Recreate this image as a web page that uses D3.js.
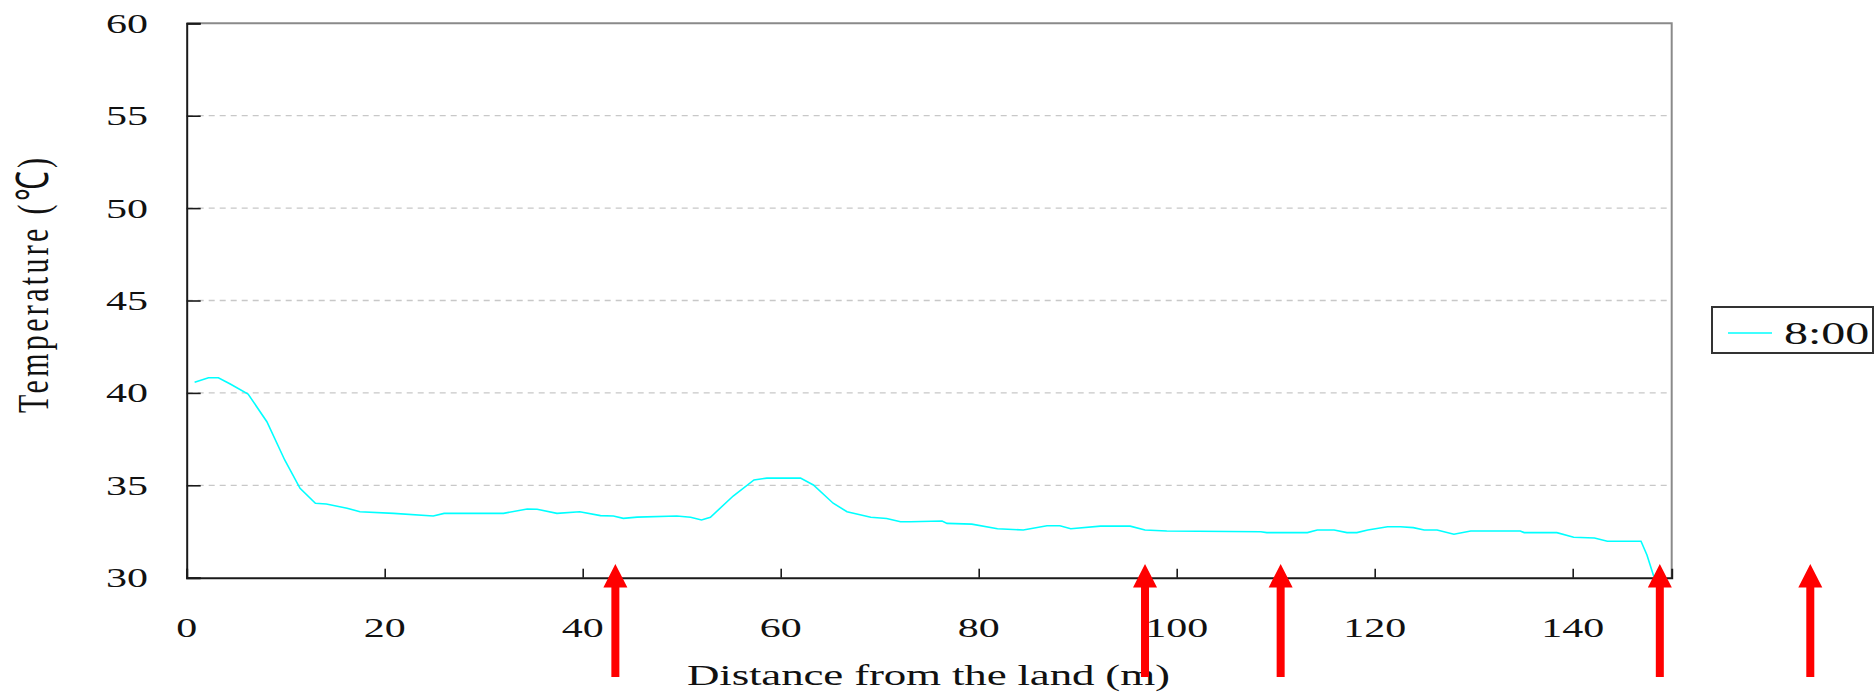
<!DOCTYPE html>
<html>
<head>
<meta charset="utf-8">
<script src="https://cdn.jsdelivr.net/npm/d3@7"></script>
<style>
  body { margin: 0; background: #fff; }
  text { font-family: "Liberation Serif", "Times New Roman", serif; fill: #111; }
</style>
</head>
<body>
<div id="chart"></div>
<script>
// distance from the land (m) and temperature at 8:00
const distance = [0.8, 2.2, 3.2, 4.4, 6.2, 8.1, 9.9, 11.45, 13.0, 14.1, 16.2, 17.5, 20.9, 24.9, 26.0,
  32.0, 34.4, 35.4, 37.4, 39.7, 41.8, 43.1, 44.1, 45.5, 49.5, 50.9, 52.0, 52.9, 55.2, 57.3, 58.6,
  62.0, 63.3, 65.3, 66.7, 69.1, 70.7, 72.1, 73.1, 76.3, 76.8, 79.3, 81.9, 84.5, 86.9, 88.2, 89.3,
  92.3, 95.3, 96.8, 99.0, 108.5, 109.1, 113.2, 114.2, 115.9, 117.2, 118.2, 119.3, 121.3, 122.6,
  123.9, 125.0, 126.3, 128.0, 129.7, 134.7, 135.1, 138.4, 140.1, 142.2, 143.5, 146.9, 147.5, 148.2];
const temp8 = [40.57, 40.82, 40.82, 40.48, 39.94, 38.44, 36.37, 34.84, 34.03, 33.99, 33.76, 33.57, 33.48, 33.34, 33.48,
  33.48, 33.72, 33.70, 33.48, 33.57, 33.36, 33.34, 33.21, 33.28, 33.34, 33.27, 33.12, 33.27, 34.42, 35.29, 35.39,
  35.39, 35.02, 34.03, 33.57, 33.27, 33.20, 33.03, 33.03, 33.07, 32.94, 32.90, 32.65, 32.58, 32.81, 32.81, 32.65,
  32.79, 32.79, 32.58, 32.53, 32.49, 32.44, 32.44, 32.58, 32.58, 32.44, 32.44, 32.58, 32.76, 32.76,
  32.71, 32.58, 32.58, 32.35, 32.53, 32.53, 32.44, 32.44, 32.19, 32.15, 31.97, 31.97, 31.23, 30.05];

const xTicks = [0, 20, 40, 60, 80, 100, 120, 140];
const yTicks = [30, 35, 40, 45, 50, 55, 60];
const arrowsAt = [43.3, 96.8, 110.5, 148.8, 164.0]; // red arrow positions (m)
const seriesName = '8:00';

const W = 1876, H = 696;
const margin = { top: 23.3, right: 204.3, bottom: 118.3, left: 186.7 };
const width = W - margin.left - margin.right;
const height = H - margin.top - margin.bottom;
const sx = 1.5; // text in the picture is stretched sideways

const svg = d3.select('#chart').append('svg')
  .attr('width', W)
  .attr('height', H)
  .style('display', 'block');

svg.append('rect').attr('width', W).attr('height', H).attr('fill', '#fff');

const g = svg.append('g')
  .attr('transform', `translate(${margin.left},${margin.top})`);

const x = d3.scaleLinear().domain([0, 150]).range([0, width]);
const y = d3.scaleLinear().domain([30, 60]).range([height, 0]);

// dashed grid
g.selectAll('.grid')
  .data(yTicks.filter(t => t > 30 && t < 60))
  .enter()
  .append('line')
  .attr('x1', 0)
  .attr('x2', width)
  .attr('y1', d => y(d))
  .attr('y2', d => y(d))
  .attr('stroke', '#c8c8c8')
  .attr('stroke-width', 1.3)
  .attr('stroke-dasharray', '6,5');

// top / right frame
g.append('path')
  .attr('d', `M0,0H${width}V${height}`)
  .attr('fill', 'none')
  .attr('stroke', '#8a8a8a')
  .attr('stroke-width', 2);

// axes, ticks pointing inside
const yAxis = g.append('g')
  .call(d3.axisRight(y).tickValues(yTicks).tickSize(14).tickFormat(''));
const xAxis = g.append('g')
  .attr('transform', `translate(0,${height})`)
  .call(d3.axisTop(x).tickValues(xTicks).tickSize(9).tickFormat(''));
[xAxis, yAxis].forEach(a => {
  a.select('.domain').attr('stroke', '#1a1a1a').attr('stroke-width', 2);
  a.selectAll('.tick line').attr('stroke', '#1a1a1a').attr('stroke-width', 1.6);
});

// tick labels
g.selectAll('.ylab')
  .data(yTicks)
  .enter()
  .append('text')
  .attr('transform', d => `translate(${148 - margin.left},${y(d) + 9.5}) scale(${sx},1)`)
  .attr('text-anchor', 'end')
  .style('font-size', '28px')
  .text(d => d);

g.selectAll('.xlab')
  .data(xTicks)
  .enter()
  .append('text')
  .attr('transform', d => `translate(${x(d)},${height + 59.5}) scale(${sx},1)`)
  .attr('text-anchor', 'middle')
  .style('font-size', '28px')
  .text(d => d);

// axis titles
svg.append('text')
  .attr('transform', `translate(928.5,685) scale(${sx},1)`)
  .attr('text-anchor', 'middle')
  .attr('textLength', 483 / sx)
  .attr('lengthAdjust', 'spacing')
  .style('font-size', '30px')
  .text('Distance from the land (m)');

svg.append('text')
  .attr('transform', `translate(48,285.5) scale(${sx},1) rotate(-90)`)
  .attr('text-anchor', 'middle')
  .attr('textLength', 255)
  .attr('lengthAdjust', 'spacing')
  .style('font-size', '30px')
  .text('Temperature (℃)');

// the series
const pts = distance.map((d, i) => [d, temp8[i]]);
g.append('path')
  .datum(pts)
  .attr('fill', 'none')
  .attr('stroke', '#00ffff')
  .attr('stroke-width', 1.6)
  .attr('d', d3.line().x(d => x(d[0])).y(d => y(d[1])));

// legend
const leg = svg.append('g').attr('transform', 'translate(1712,307)');
leg.append('rect')
  .attr('width', 161)
  .attr('height', 46)
  .attr('fill', '#fff')
  .attr('stroke', '#333')
  .attr('stroke-width', 2);
leg.append('line')
  .attr('x1', 16).attr('x2', 60)
  .attr('y1', 26).attr('y2', 26)
  .attr('stroke', '#00ffff')
  .attr('stroke-width', 1.6);
leg.append('text')
  .attr('transform', `translate(72,37) scale(${sx},1)`)
  .style('font-size', '32px')
  .text(seriesName);

// red arrows
const tipY = 564, headY = 587.5, baseY = 677, headW = 12, shaftW = 4;
svg.selectAll('.arrow')
  .data(arrowsAt)
  .enter()
  .append('path')
  .attr('transform', d => `translate(${margin.left + x(d)},0)`)
  .attr('fill', '#ff0000')
  .attr('d', `M0,${tipY}L${headW},${headY}H${shaftW}V${baseY}H${-shaftW}V${headY}H${-headW}Z`);
</script>
</body>
</html>
